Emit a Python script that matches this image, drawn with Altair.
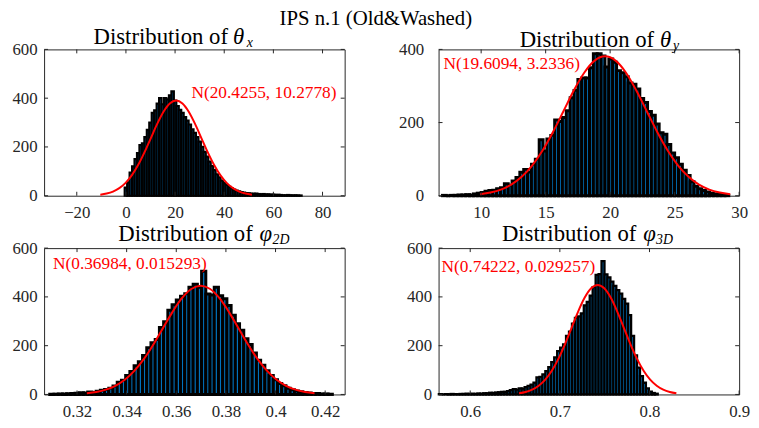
import altair as alt
import pandas as pd

FONT = "Liberation Serif"
AXIS_COLOR = "#262626"
BAR_FILL = "#0072BD"
RED = "#ff0000"
W, H = 304, 148

MAIN_TITLE = "IPS n.1 (Old&Washed)"

# ---- panel 1: theta_x ----
TX_EDGE0 = -0.5
TX_BINW = 1.0
TX_COUNTS = [33, 55, 95, 120, 150, 175, 208, 215, 240, 270,
             300, 340, 350, 378, 400, 375, 400, 395, 412, 428,
             390, 368, 352, 340, 322, 308, 292, 272, 258, 240,
             222, 200, 180, 160, 140, 122, 105, 88, 75, 62,
             52, 44, 36, 30, 25, 21, 18, 15, 13, 11,
             10, 9, 8, 9, 7, 6, 7, 5, 6, 4,
             5, 3, 4, 3, 2, 2, 3, 2, 1, 2,
             1, 1]
TX_CURVE_X = [-10.41, -7.84, -5.27, -2.70, -0.13, 2.44, 5.01, 7.58, 10.15, 12.72,
              15.29, 17.86, 20.43, 23.00, 25.56, 28.13, 30.70, 33.27, 35.84, 38.41,
              40.98, 43.55, 46.12, 48.69, 51.26]
TX_CURVE_Y = [4.3, 8.9, 17.1, 31.0, 52.8, 84.4, 126.6, 178.5, 236.5, 294.4,
              344.2, 378.0, 390.0, 378.0, 344.2, 294.4, 236.5, 178.5, 126.6, 84.4,
              52.8, 31.0, 17.1, 8.9, 4.3]
TX_LABEL = "N(20.4255, 10.2778)"
TX_TITLE = ["Distribution of", "θ", "x"]
TX_XTICKS = [-20, 0, 20, 40, 60, 80]
TX_YTICKS = [0, 200, 400, 600]
TX_XDOMAIN = [-33.3, 89.0]
TX_YDOMAIN = [0, 600]

# ---- panel 2: theta_y ----
TY_EDGE0 = 7.0
TY_BINW = 0.3
TY_COUNTS = [1, 0, 1, 1, 2, 2, 3, 2, 5, 7,
             9, 12, 14, 15, 19, 22, 33, 29, 40, 50,
             64, 72, 65, 86, 100, 153, 122, 155, 165, 207,
             203, 214, 232, 268, 288, 318, 322, 322, 350, 388,
             388, 382, 352, 374, 365, 342, 336, 325, 308, 305,
             292, 266, 255, 230, 220, 196, 172, 168, 140, 117,
             104, 86, 70, 55, 38, 26, 19, 14, 10, 7,
             5, 4, 3, 1]
TY_CURVE_X = [9.91, 10.72, 11.53, 12.33, 13.14, 13.95, 14.76, 15.57, 16.38, 17.18,
              17.99, 18.80, 19.61, 20.42, 21.23, 22.03, 22.84, 23.65, 24.46, 25.27,
              26.08, 26.89, 27.69, 28.50, 29.31]
TY_CURVE_Y = [4.2, 8.7, 16.7, 30.3, 51.6, 82.4, 123.7, 174.4, 231.1, 287.6,
              336.2, 369.3, 381.0, 369.3, 336.2, 287.6, 231.1, 174.4, 123.7, 82.4,
              51.6, 30.3, 16.7, 8.7, 4.2]
TY_LABEL = "N(19.6094, 3.2336)"
TY_TITLE = ["Distribution of", "θ", "y"]
TY_XTICKS = [10, 15, 20, 25, 30]
TY_YTICKS = [0, 200, 400]
TY_XDOMAIN = [6.7, 30.0]
TY_YDOMAIN = [0, 400]

# ---- panel 3: phi_2D ----
P2_EDGE0 = 0.3090
P2_BINW = 0.0017
P2_COUNTS = [1, 1, 2, 2, 3, 4, 5, 7, 6, 10,
             8, 13, 17, 20, 26, 35, 50, 58, 78, 94,
             118, 134, 160, 192, 212, 225, 275, 298, 345, 368,
             387, 403, 413, 440, 452, 440, 505, 412, 408, 440,
             405, 392, 365, 325, 290, 263, 228, 205, 170, 140,
             120, 97, 78, 60, 45, 36, 25, 19, 14, 11,
             8, 6, 4, 4, 2, 2, 1]
P2_CURVE_X = [0.32396, 0.32778, 0.33161, 0.33543, 0.33925, 0.34308, 0.34690, 0.35072,
              0.35455, 0.35837, 0.36219, 0.36602, 0.36984, 0.37366, 0.37749, 0.38131,
              0.38513, 0.38896, 0.39278, 0.39660, 0.40043, 0.40425, 0.40807, 0.41190,
              0.41572]
P2_CURVE_Y = [5.0, 10.2, 19.6, 35.5, 60.3, 96.5, 144.8, 204.2, 270.5, 336.6,
              393.6, 432.3, 446.0, 432.3, 393.6, 336.6, 270.5, 204.2, 144.8, 96.5,
              60.3, 35.5, 19.6, 10.2, 5.0]
P2_LABEL = "N(0.36984, 0.015293)"
P2_TITLE = ["Distribution of", "φ", "2D"]
P2_XTICKS = [0.32, 0.34, 0.36, 0.38, 0.4, 0.42]
P2_YTICKS = [0, 200, 400, 600]
P2_XDOMAIN = [0.30673, 0.42785]
P2_YDOMAIN = [0, 600]

# ---- panel 4: phi_3D ----
P3_EDGE0 = 0.565
P3_BINW = 0.0033
P3_COUNTS = [1, 0, 1, 1, 2, 1, 1, 2, 2, 3,
             2, 3, 2, 4, 3, 5, 5, 7, 6, 8,
             9, 11, 11, 14, 18, 22, 20, 25, 24, 30,
             35, 40, 48, 70, 72, 82, 96, 112, 133, 152,
             178, 192, 205, 240, 258, 290, 314, 320, 332, 365,
             380, 405, 440, 490, 493, 547, 492, 480, 463, 445,
             428, 413, 392, 372, 325, 240, 160, 110, 75, 48,
             25, 12, 6, 3]
P3_CURVE_X = [0.65445, 0.66176, 0.66908, 0.67639, 0.68371, 0.69102, 0.69833, 0.70565,
              0.71296, 0.72028, 0.72759, 0.73491, 0.74222, 0.74953, 0.75685, 0.76416,
              0.77148, 0.77879, 0.78611, 0.79342, 0.80073, 0.80805, 0.81536, 0.82268,
              0.82999]
P3_CURVE_Y = [5.0, 10.2, 19.7, 35.7, 60.7, 97.1, 145.8, 205.6, 272.3, 338.9,
              396.2, 435.2, 449.0, 435.2, 396.2, 338.9, 272.3, 205.6, 145.8, 97.1,
              60.7, 35.7, 19.7, 10.2, 5.0]
P3_LABEL = "N(0.74222, 0.029257)"
P3_TITLE = ["Distribution of", "φ", "3D"]
P3_XTICKS = [0.6, 0.7, 0.8, 0.9]
P3_YTICKS = [0, 200, 400, 600]
P3_XDOMAIN = [0.5647, 0.9]
P3_YDOMAIN = [0, 600]


def text_layer(txt, x, y, size, color="black", align="left", baseline="alphabetic", style="normal"):
    return alt.Chart(pd.DataFrame({"t": [txt]})).mark_text(
        align=align, baseline=baseline, font=FONT, fontSize=size, color=color,
        fontStyle=style,
    ).encode(x=alt.value(x), y=alt.value(y), text="t:N")


def panel(counts, edge0, binw, cxs, cys, label, lpos, title, tpos, xdom, ydom,
          xticks, yticks, ypad, sw, main=False):
    n = len(counts)
    bars_df = pd.DataFrame({
        "left": [edge0 + i * binw for i in range(n)],
        "right": [edge0 + (i + 1) * binw for i in range(n)],
        "count": counts,
    })
    xs = alt.Scale(domain=xdom, nice=False, zero=False)
    ys = alt.Scale(domain=ydom, nice=False, zero=False)
    xax = alt.Axis(values=xticks, format="~f", ticks=False, domain=False, grid=False,
                   labelPadding=9, labelFlush=False, labelOverlap=False)
    yax = alt.Axis(values=yticks, format="~f", ticks=False, domain=False, grid=False,
                   labelPadding=ypad, labelOverlap=False)

    def X(f):
        return alt.X(f, scale=xs, axis=xax, title=None)

    def Y(f):
        return alt.Y(f, scale=ys, axis=yax, title=None)

    bars = alt.Chart(bars_df).mark_rect(fill=BAR_FILL, stroke="black", strokeWidth=sw).encode(
        x=X("left:Q"), x2="right:Q", y=Y("count:Q"), y2=alt.datum(0))
    curve = alt.Chart(pd.DataFrame({"x": cxs, "y": cys})).mark_line(
        color=RED, strokeWidth=2, interpolate="monotone").encode(x=X("x:Q"), y=Y("y:Q"))
    xt = pd.DataFrame({"v": xticks})
    yt = pd.DataFrame({"v": yticks})
    tick = dict(color=AXIS_COLOR, strokeWidth=1)
    xb = alt.Chart(xt).mark_rule(**tick).encode(x=X("v:Q"), y=alt.value(H), y2=alt.value(H - 4))
    xtp = alt.Chart(xt).mark_rule(**tick).encode(x=X("v:Q"), y=alt.value(0), y2=alt.value(4))
    yl = alt.Chart(yt).mark_rule(**tick).encode(y=Y("v:Q"), x=alt.value(0), x2=alt.value(4))
    yr = alt.Chart(yt).mark_rule(**tick).encode(y=Y("v:Q"), x=alt.value(W - 4), x2=alt.value(W))
    ann = text_layer(label, lpos[0], lpos[1], 17.5, color=RED, baseline="middle")
    t1 = text_layer(title[0], tpos[0], tpos[3], 23, align="right")
    t2 = text_layer(title[1], tpos[1], tpos[3], 23, style="italic")
    t3 = text_layer(title[2], tpos[2], tpos[3] + 3, 14, style="italic")
    layers = [bars, curve, xb, xtp, yl, yr, ann, t1, t2, t3]
    if main:
        layers.append(text_layer(MAIN_TITLE, 335.5, -25, 21, align="center"))
    return alt.layer(*layers).properties(width=W, height=H)


tl = panel(TX_COUNTS, TX_EDGE0, TX_BINW, TX_CURVE_X, TX_CURVE_Y, TX_LABEL, (149, 44),
           TX_TITLE, (186, 191, 205, -5), TX_XDOMAIN, TX_YDOMAIN, TX_XTICKS, TX_YTICKS,
           7, 2.2, main=True)
tr = panel(TY_COUNTS, TY_EDGE0, TY_BINW, TY_CURVE_X, TY_CURVE_Y, TY_LABEL, (5, 14.5),
           TY_TITLE, (218, 224, 237, -2.3), TY_XDOMAIN, TY_YDOMAIN, TY_XTICKS, TY_YTICKS,
           15, 3.0)
bl = panel(P2_COUNTS, P2_EDGE0, P2_BINW, P2_CURVE_X, P2_CURVE_Y, P2_LABEL, (9, 16.5),
           P2_TITLE, (211, 218, 231, -7.5), P2_XDOMAIN, P2_YDOMAIN, P2_XTICKS, P2_YTICKS,
           7, 3.0)
br = panel(P3_COUNTS, P3_EDGE0, P3_BINW, P3_CURVE_X, P3_CURVE_Y, P3_LABEL, (3, 19),
           P3_TITLE, (200, 207, 220, -7.5), P3_XDOMAIN, P3_YDOMAIN, P3_XTICKS, P3_YTICKS,
           7, 2.3)

chart = alt.ConcatChart(
    concat=[tl, tr, bl, br], columns=2,
    spacing={"row": 53, "column": 95}, bounds="flush",
).properties(
    padding={"left": 3.5, "top": -3.5, "right": 0, "bottom": 0},
    background="white",
).configure_view(
    stroke=AXIS_COLOR, strokeWidth=1,
).configure_axis(
    labelFont=FONT, labelFontSize=17, labelColor=AXIS_COLOR,
)

chart.save("out.html", embed_options={"renderer": "svg", "actions": False})
